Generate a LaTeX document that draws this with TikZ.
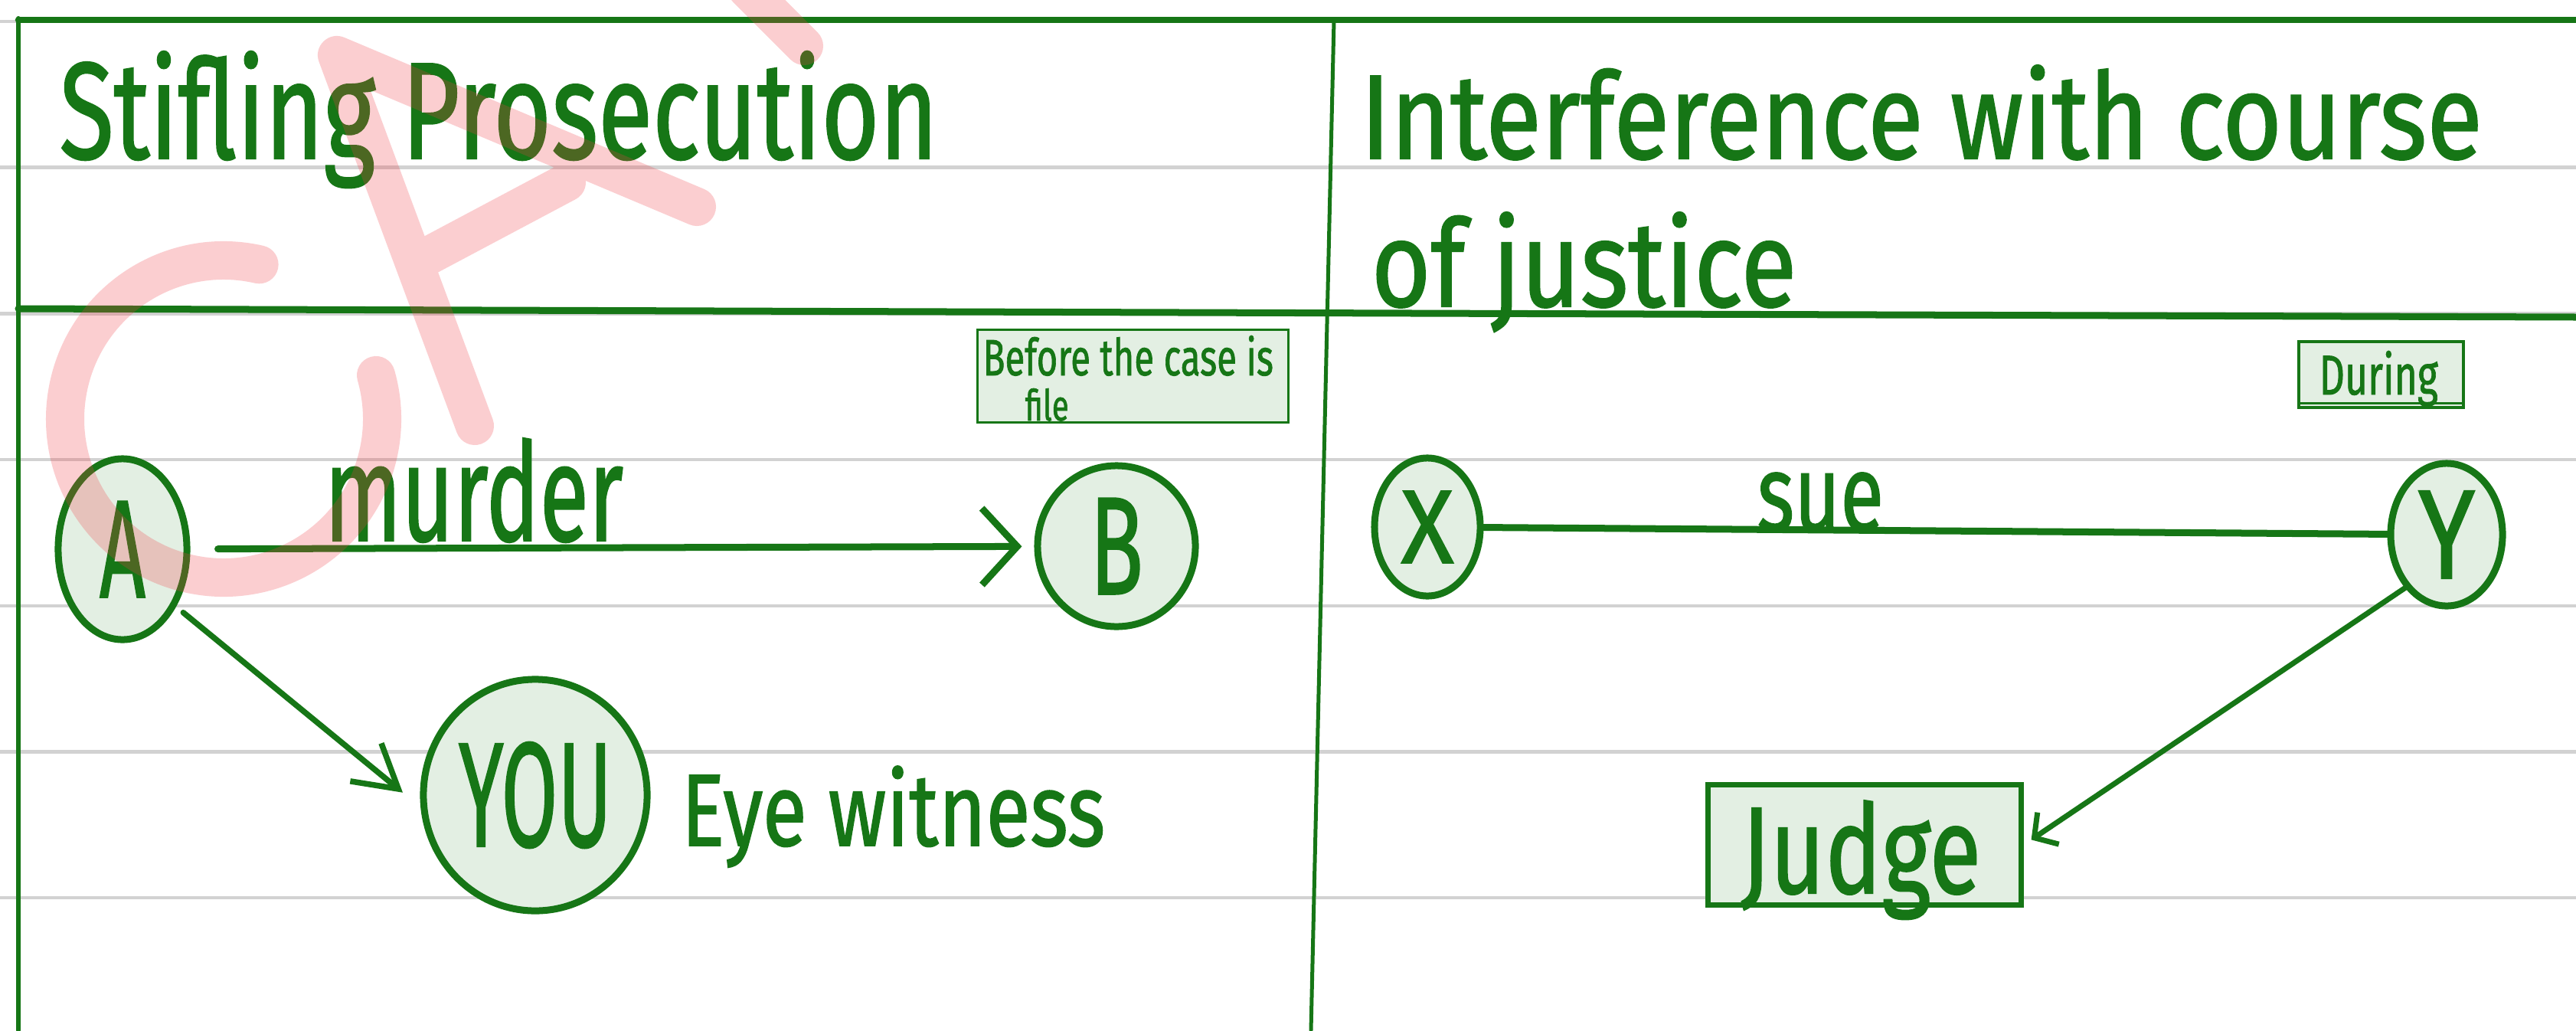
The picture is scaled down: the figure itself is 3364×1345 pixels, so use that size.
\documentclass[tikz,border=0pt]{standalone}
\usepackage{fontspec}
\usepackage{graphicx}
\usetikzlibrary{arrows.meta,shapes.geometric}
\newfontfamily\hand[FakeBold=1.3]{Fira Sans}
\definecolor{ink}{RGB}{22,118,22}
\definecolor{wash}{RGB}{227,239,227}
\definecolor{ruling}{RGB}{210,210,210}
\definecolor{stamp}{RGB}{240,60,70}
% scale a handwritten word to a given width and height above the baseline
\newcommand{\fit}[3]{\resizebox{#1}{#2}{\hand #3}}
\tikzset{
  words/.style={inner sep=0pt, text=ink},
  bubble/.style={ellipse, draw=ink, fill=wash, line width=0.09cm, inner sep=0pt, text=ink},
  tag/.style={rectangle, draw=ink, fill=wash, inner sep=0pt},
  frame/.style={draw=ink, line cap=round},
  link/.style={draw=ink, line cap=round},
  rulingline/.style={draw=ruling, line width=0.045cm},
  watermark/.style={draw=stamp, draw opacity=0.25, line width=0.50cm, line cap=round, line join=round}
}
\begin{document}
\begin{tikzpicture}[x=0.01cm, y=-0.01cm]
\useasboundingbox (0,0) rectangle (3364,1345);
\fill[white] (0,0) rectangle (3364,1345);

% ruled notebook lines
\foreach \k in {0,...,6}
  \draw[rulingline] (0,{28+190.7*\k}) -- (3364,{28+190.7*\k});

% table frame
\draw[frame, line width=0.085cm] (24,26) -- (3364,26);
\draw[frame, line width=0.06cm] (24,24) -- (24,1345);
\draw[frame, line width=0.09cm] (24,403) -- (3364,414);
\draw[frame, line width=0.05cm] (1742,26) -- (1712,1345);

% column headings
\node[words, anchor=base west] (head1) at (77,207) {\fit{11.46cm}{1.40cm}{Stifling Prosecution}};
\node[words, anchor=base west] (head2a) at (1776,207) {\fit{14.64cm}{1.22cm}{Interference with course}};
\node[words, anchor=base west] (head2b) at (1790,400) {\fit{5.55cm}{1.23cm}{of justice}};

% left column: stifling prosecution
\node[tag, line width=0.03cm, minimum width=4.05cm, minimum height=1.20cm] (before) at (1479.5,491) {};
\node[words, anchor=base west] (beforeA) at (1283,490) {\fit{3.79cm}{0.52cm}{Before the case is}};
\node[words, anchor=base west] (beforeB) at (1338,549) {\fit{0.57cm}{0.42cm}{file}};

\node[bubble, minimum width=1.68cm, minimum height=2.36cm] (A) at (160,717) {\fit{0.60cm}{1.25cm}{A}};
\node[bubble, minimum width=2.06cm, minimum height=2.10cm] (B) at (1458,713) {\fit{0.70cm}{1.25cm}{B}};
\node[bubble, minimum width=2.92cm, minimum height=3.02cm] (YOU) at (699,1038) {\fit{2.00cm}{1.36cm}{YOU}};

\node[words, anchor=base west] (murder) at (423,706) {\fit{3.90cm}{1.34cm}{murder}};
\node[words, anchor=base west] (eye) at (889,1104) {\fit{5.53cm}{1.04cm}{Eye witness}};

\draw[link, line width=0.09cm, -{Straight Barb[length=0.46cm,width=1.0cm]},
      shorten <=0.36cm, shorten >=0.16cm] (A) -- (B);
\draw[link, line width=0.075cm, -{Straight Barb[length=0.55cm,width=0.64cm]},
      shorten <=0.12cm, shorten >=0.3cm] (A.-47) -- (YOU.186);

% right column: interference with course of justice
\node[tag, line width=0.035cm, minimum width=2.15cm, minimum height=0.86cm] (during) at (3109.5,489) {};
\node[words, anchor=base west] (duringText) at (3028,515) {\fit{1.55cm}{0.57cm}{During}};
\draw[frame, line width=0.03cm] ([xshift=0.03cm, yshift=0.07cm]during.south west) -- ([xshift=-0.03cm, yshift=0.07cm]during.south east);

\node[bubble, minimum width=1.38cm, minimum height=1.80cm] (X) at (1864,688) {\fit{0.69cm}{0.94cm}{X}};
\node[bubble, minimum width=1.46cm, minimum height=1.86cm] (Y) at (3195,698) {\fit{0.74cm}{1.14cm}{Y}};
\node[words, anchor=base west] (sue) at (2294,693) {\fit{1.65cm}{0.76cm}{sue}};

\node[tag, line width=0.07cm, minimum width=4.08cm, minimum height=1.57cm] (Judge) at (2435,1103) {};
\node[words, anchor=base west] (judgeText) at (2273,1166) {\fit{3.13cm}{1.21cm}{Judge}};

\draw[link, line width=0.09cm] (X) -- (Y);
\draw[link, line width=0.07cm, -{Straight Barb[length=0.22cm,width=0.5cm]},
      shorten >=0.12cm] (Y.232) -- (Judge.east);

% translucent stamp across the left column
\draw[watermark] (338.6,345.3) arc[start angle=-77, end angle=-376, radius=207]
  (910,270) -- (440,72) -- (620,556)
  (548,340) -- (740,238)
  (975,-15) -- (1050,60);
\end{tikzpicture}
\end{document}
